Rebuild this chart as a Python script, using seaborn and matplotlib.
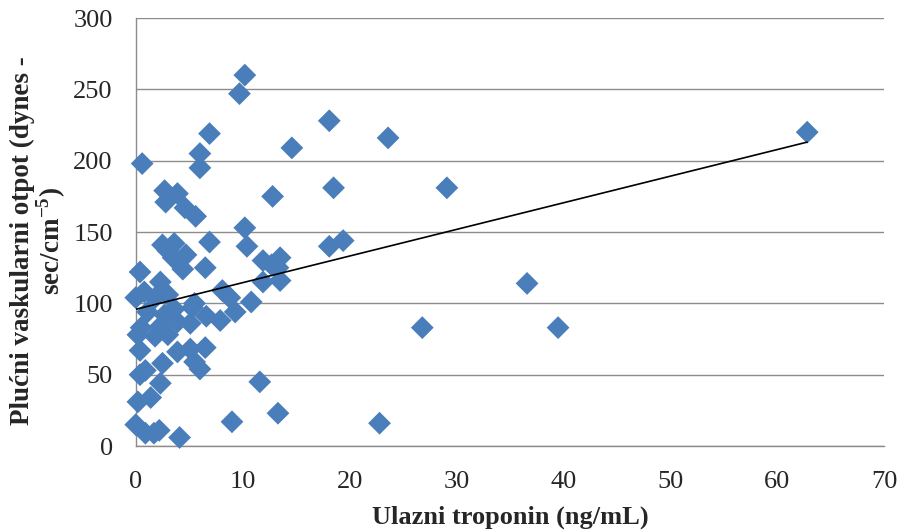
import numpy as np
import pandas as pd
import matplotlib
matplotlib.use("Agg")
import matplotlib.pyplot as plt
import seaborn as sns

troponin = [62.8, 10.2, 9.7, 18.1, 6.9, 23.6, 14.6, 6.0, 0.6, 6.0,
            29.1, 18.5, 2.7, 3.9, 12.8, 2.8, 4.6, 5.6, 10.2, 19.4,
            6.9, 2.5, 3.6, 18.1, 10.4, 3.0, 4.7, 3.5, 13.5, 11.9,
            12.7, 6.5, 4.4, 0.4, 11.9, 13.5, 2.3, 36.6, 8.1, 0.8,
            3.0, 0.0, 1.8, 8.8, 5.5, 10.8, 6.6, 9.3, 1.1, 2.7,
            3.6, 7.9, 3.9, 5.1, 26.8, 39.5, 0.5, 2.3, 0.2, 1.8,
            3.0, 0.4, 3.9, 5.1, 6.5, 2.5, 5.5, 6.0, 0.4, 0.9,
            2.3, 11.6, 1.4, 0.2, 13.3, 9.0, 22.8, 0.0, 0.9, 2.2,
            1.7, 4.1, 5.3, 13.3]
otpor = [220, 260, 247, 228, 219, 216, 209, 205, 198, 195,
         181, 181, 179, 177, 175, 171, 167, 161, 153, 144,
         143, 141, 142, 140, 140, 137, 134, 132, 132, 130,
         127, 125, 124, 122, 115, 116, 115, 114, 109, 108,
         106, 104, 104, 104, 100, 101, 91, 94, 94, 92,
         96, 88, 87, 86, 83, 83, 83, 84, 78, 77,
         78, 67, 66, 68, 69, 58, 59, 54, 50, 53,
         44, 45, 34, 31, 23, 17, 16, 15, 9, 11,
         9, 6, 97, 125]

xticks = [0, 10, 20, 30, 40, 50, 60, 70]
yticks = [0, 50, 100, 150, 200, 250, 300]

df = pd.DataFrame({"x": troponin, "y": otpor})

sns.set_style("white")
plt.rcParams["font.family"] = ["Liberation Serif", "DejaVu Serif"]
plt.rcParams["mathtext.fontset"] = "custom"
plt.rcParams["mathtext.rm"] = "Liberation Serif"
plt.rcParams["mathtext.bf"] = "Liberation Serif:bold"

fig = plt.figure(figsize=(9.05, 5.31), dpi=100)
ax = fig.add_axes([0.150, 0.160, 0.827, 0.806])

sns.scatterplot(data=df, x="x", y="y", marker="D", s=135, color="#4A7EBB",
                edgecolor="none", ax=ax, zorder=3, legend=False, clip_on=False)

slope, intercept = np.polyfit(df["x"], df["y"], 1)
xs = np.array([0.0, df["x"].max()])
ax.plot(xs, intercept + slope * xs, color="black", lw=1.2, zorder=4)

ax.set_xlim(0, 70)
ax.set_ylim(0, 300)
ax.set_xticks(xticks)
ax.set_yticks(yticks)
ax.yaxis.grid(True, color="#8C8C8C", lw=1.0)
ax.set_axisbelow(True)
for s in ["top", "right"]:
    ax.spines[s].set_visible(False)
for s in ["left", "bottom"]:
    ax.spines[s].set_color("#8C8C8C")
    ax.spines[s].set_linewidth(1.0)
ax.tick_params(axis="both", labelsize=19, length=0)
ax.tick_params(axis="y", pad=16.5)
ax.tick_params(axis="x", pad=18)

ax.set_xlabel("Ulazni troponin (ng/mL)", fontsize=19, fontweight="bold", labelpad=9)
ax.set_ylabel("Plućni vaskularni otpot (dynes -\nsec/cm$^{\\mathbf{-5}}$)",
              fontsize=19.5, fontweight="bold", linespacing=1.0)
ax.yaxis.set_label_coords(-0.090, 0.48)

fig.savefig("out.png", dpi=100)
